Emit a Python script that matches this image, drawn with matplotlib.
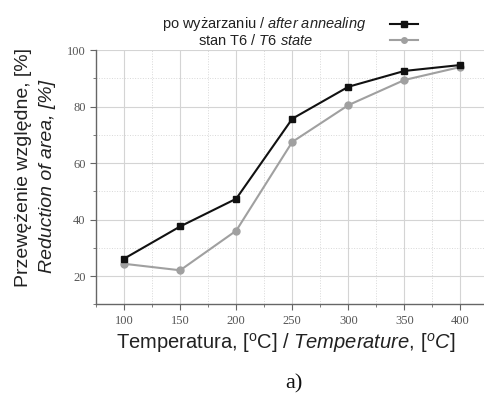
import matplotlib
matplotlib.use("Agg")
import matplotlib.pyplot as plt
from matplotlib.lines import Line2D
from matplotlib.ticker import MultipleLocator

temps = [100, 150, 200, 250, 300, 350, 400]
after_annealing = [26.2, 37.6, 47.4, 75.7, 87.0, 92.6, 94.7]
t6_state = [24.4, 22.1, 36.1, 67.5, 80.5, 89.4, 94.0]
label_annealing = "po wyżarzaniu / $\\it{after\\ annealing}$"
label_t6 = "stan T6 / $\\it{T6\\ state}$"

plt.rcParams['mathtext.fontset'] = 'custom'
plt.rcParams['mathtext.rm'] = 'Liberation Sans'
plt.rcParams['mathtext.it'] = 'Liberation Sans:italic'

fig = plt.figure(figsize=(4.85, 3.97), dpi=100)
ax = fig.add_axes([0.198, 0.233, 0.80, 0.641])

black = '#111111'
gray = '#a0a0a0'
ax.plot(temps, t6_state, color=gray, lw=1.5, marker='o', ms=5, zorder=3)
ax.plot(temps, after_annealing, color=black, lw=1.5, marker='s', ms=5, zorder=4)

ax.set_xlim(75, 421)
ax.set_ylim(10, 100)
ax.set_xticks(temps)
ax.set_yticks([20, 40, 60, 80, 100])
ax.xaxis.set_minor_locator(MultipleLocator(25))
ax.yaxis.set_minor_locator(MultipleLocator(10))
ax.grid(which='major', color='#d4d4d4', lw=0.8, ls='-')
ax.grid(which='minor', color='#d8d8d8', lw=0.7, ls=':')
ax.set_axisbelow(True)
for s in ['top', 'right']:
    ax.spines[s].set_visible(False)
for s in ['left', 'bottom']:
    ax.spines[s].set_color('#666666')
    ax.spines[s].set_linewidth(1.0)
ax.tick_params(which='major', direction='out', length=4, color='#666666',
               labelsize=9, labelcolor='#555555')
ax.tick_params(which='minor', direction='out', length=2, color='#666666')
for lab in ax.get_xticklabels() + ax.get_yticklabels():
    lab.set_fontfamily('Liberation Serif')

fs = 14
fig.text(0.588, 0.135, "Temperatura, [$^{\\rm o}$C] / $\\it{Temperature,\\,[^oC]}$",
         ha='center', va='center', fontsize=14.5, family='Liberation Sans', color='#222222')
fig.text(0.049, 0.577, "Przewężenie względne, [%]", rotation=90, ha='center', va='center',
         fontsize=fs, family='Liberation Sans', color='#222222')
fig.text(0.097, 0.556, "Reduction of area, [%]", rotation=90, ha='center', va='center',
         fontsize=fs, family='Liberation Sans', style='italic', color='#222222')
fig.text(0.606, 0.032, "a)", ha='center', va='center', fontsize=16,
         family='Liberation Serif', color='#111111')

# legend
fig.text(0.545, 0.94, label_annealing, ha='center', va='center', fontsize=10.5,
         family='Liberation Sans', color='#222222')
fig.text(0.528, 0.899, label_t6, ha='center', va='center', fontsize=10.5,
         family='Liberation Sans', color='#222222')
fig.add_artist(Line2D([0.805, 0.834, 0.862], [0.94, 0.94, 0.94], transform=fig.transFigure,
                      color=black, lw=1.5, marker='s', ms=4, markevery=[1]))
fig.add_artist(Line2D([0.805, 0.834, 0.862], [0.899, 0.899, 0.899], transform=fig.transFigure,
                      color=gray, lw=1.5, marker='o', ms=4, markevery=[1]))

fig.savefig('out.png', dpi=100)
